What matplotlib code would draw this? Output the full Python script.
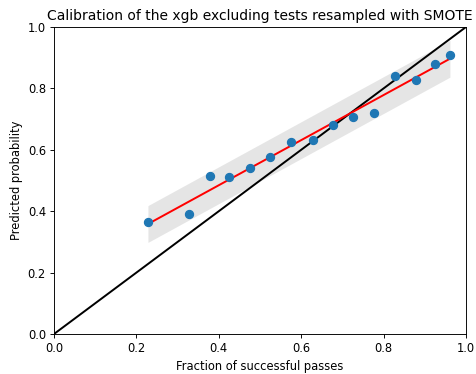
import matplotlib
import matplotlib.pyplot as plt
import numpy as np

matplotlib.use("Agg", force=True)

# binned calibration points: fraction of successful passes vs mean predicted probability
frac_success = [0.228, 0.328, 0.379, 0.425, 0.476, 0.524, 0.575, 0.629, 0.677,
                0.726, 0.777, 0.828, 0.879, 0.925, 0.961]
pred_prob = [0.365, 0.391, 0.515, 0.511, 0.541, 0.577, 0.625, 0.632, 0.681,
             0.707, 0.720, 0.840, 0.827, 0.879, 0.909]
band_halfwidth = 0.06

x = np.array(frac_success)
y = np.array(pred_prob)
slope, intercept = np.polyfit(x, y, 1)
xs = np.linspace(x.min(), x.max(), 50)
fit = slope * xs + intercept

DPI = 83
fig = plt.figure(figsize=(476 / DPI, 374 / DPI), dpi=DPI)
ax = fig.add_axes([54 / 476, 40 / 374, 412 / 476, 307 / 374])
ax.fill_between(xs, fit - band_halfwidth, fit + band_halfwidth, color="0.5", alpha=0.2, linewidth=0)
ax.plot([0, 1], [0, 1], color="black", linewidth=1.7)
ax.plot(xs, fit, color="red", linewidth=1.7)
ax.scatter(x, y, color="#1f77b4", s=50, zorder=3)
ax.set_xlim(0, 1)
ax.set_ylim(0, 1)
ax.set_xlabel("Fraction of successful passes")
ax.set_ylabel("Predicted probability")
ax.set_title("Calibration of the xgb excluding tests resampled with SMOTE")
fig.savefig("out.png", dpi=DPI)
